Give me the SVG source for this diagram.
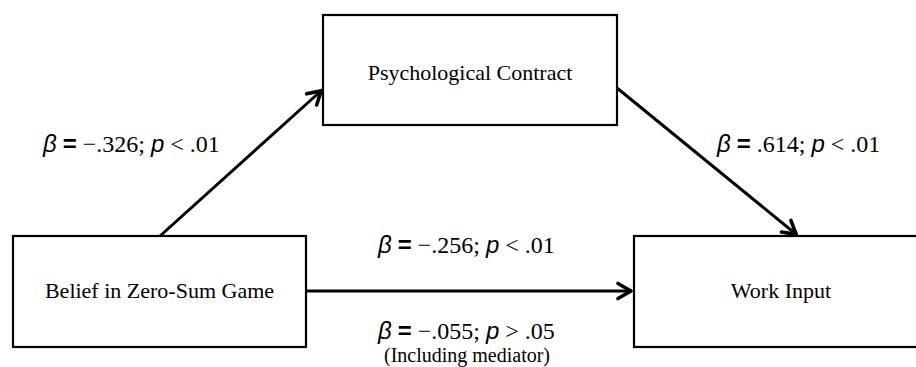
<svg xmlns="http://www.w3.org/2000/svg" width="916" height="367" viewBox="0 0 916 367">
<defs>
<style>
.box{fill:#fff;stroke:#000;stroke-width:2.2}
.lbl{font-family:"Liberation Serif",serif;font-size:22px;fill:#000;text-anchor:middle}
.stat{font-family:"Liberation Serif",serif;font-size:24px;fill:#000}
.g{font-family:"Liberation Sans",sans-serif;font-style:italic}
.eq{font-family:"Liberation Sans",sans-serif;font-weight:bold}
.note{font-family:"Liberation Serif",serif;font-size:20px;fill:#000;text-anchor:middle}
.edge{stroke:#000;stroke-width:3;fill:none;marker-end:url(#ah)}
</style>
<marker id="ah" markerUnits="userSpaceOnUse" viewBox="-16 -10 20 20" refX="1" refY="0" markerWidth="20" markerHeight="20" orient="auto">
<path d="M-13,-7.5 L0,0 L-13,7.5" fill="none" stroke="#000" stroke-width="3.6" stroke-linecap="round" stroke-linejoin="round"/>
</marker>
</defs>
<g id="connectors">
<line class="edge" x1="160" y1="236" x2="322" y2="90"/>
<line class="edge" x1="617" y1="88" x2="797" y2="235"/>
<line class="edge" x1="307" y1="291" x2="632" y2="291"/>
</g>
<g id="psych">
<rect class="box" x="323" y="15" width="294" height="110"/>
<text class="lbl" x="470" y="80">Psychological Contract</text>
</g>
<g id="belief">
<rect class="box" x="13" y="236" width="293" height="111"/>
<text class="lbl" x="159.5" y="298">Belief in Zero-Sum Game</text>
</g>
<g id="work">
<rect class="box" x="634" y="236" width="300" height="111"/>
<text class="lbl" x="781" y="298">Work Input</text>
</g>
<g id="labels">
<text class="stat" x="43" y="152"><tspan class="g">β</tspan> <tspan class="eq">=</tspan> −.326; <tspan class="g">p</tspan> &lt; .01</text>
<text class="stat" x="717" y="152"><tspan class="g">β</tspan> <tspan class="eq">=</tspan>  .614; <tspan class="g">p</tspan> &lt; .01</text>
<text class="stat" x="378" y="253"><tspan class="g">β</tspan> <tspan class="eq">=</tspan> −.256; <tspan class="g">p</tspan> &lt; .01</text>
<text class="stat" x="378" y="339"><tspan class="g">β</tspan> <tspan class="eq">=</tspan> −.055; <tspan class="g">p</tspan> &gt; .05</text>
<text class="note" x="467" y="362">(Including mediator)</text>
</g>
</svg>
